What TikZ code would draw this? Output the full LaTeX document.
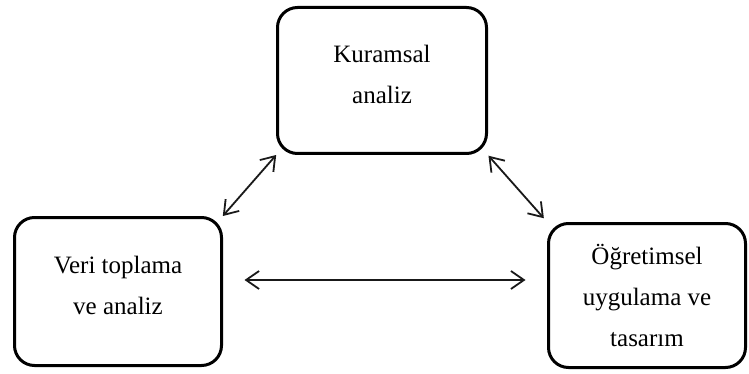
\documentclass[tikz,border=0pt]{standalone}
\usepackage{fontspec}
\setmainfont{Liberation Serif}
\usetikzlibrary{arrows.meta}
\begin{document}
\begin{tikzpicture}[x=1pt,y=-1pt,
  stagebox/.style={draw=black, line width=3pt, rounded corners=20pt,
    inner sep=0pt, outer sep=0pt},
  stagetext/.style={inner sep=0pt, align=center,
    font=\fontsize{25}{41}\selectfont},
  biarrow/.style={line width=1.8pt, draw=black!90,
    {Straight Barb[length=13pt,width=18pt,line width=1.8pt]}-{Straight Barb[length=13pt,width=18pt,line width=1.8pt]}}]
  \useasboundingbox (0,0) rectangle (749,374);
  % the three stages of the study
  \node[stagebox, minimum width=209pt, minimum height=146pt] (theory) at (382,80.5) {};
  \node[stagebox, minimum width=207pt, minimum height=148pt] (data) at (118,291.5) {};
  \node[stagebox, minimum width=197pt, minimum height=144pt] (design) at (647,295.5) {};
  \node[stagetext] (theorytext) at ([yshift=6pt]theory.center) {Kuramsal\\analiz};
  \node[stagetext] (datatext) at ([yshift=6pt]data.center) {Veri toplama\\ve analiz};
  \node[stagetext] (designtext) at (design.center) {Öğretimsel\\uygulama ve\\tasarım};
  % two-way links between the stages
  \draw[biarrow, shorten <=2pt, shorten >=2pt] (data.north east) -- (theory.south west);
  \draw[biarrow, shorten <=3pt, shorten >=7pt] (theory.south east) -- (design.north west);
  \coordinate (hy) at (0,280);
  \draw[biarrow, shorten <=23pt, shorten >=23pt] (data.east |- hy) -- (design.west |- hy);
\end{tikzpicture}
\end{document}
